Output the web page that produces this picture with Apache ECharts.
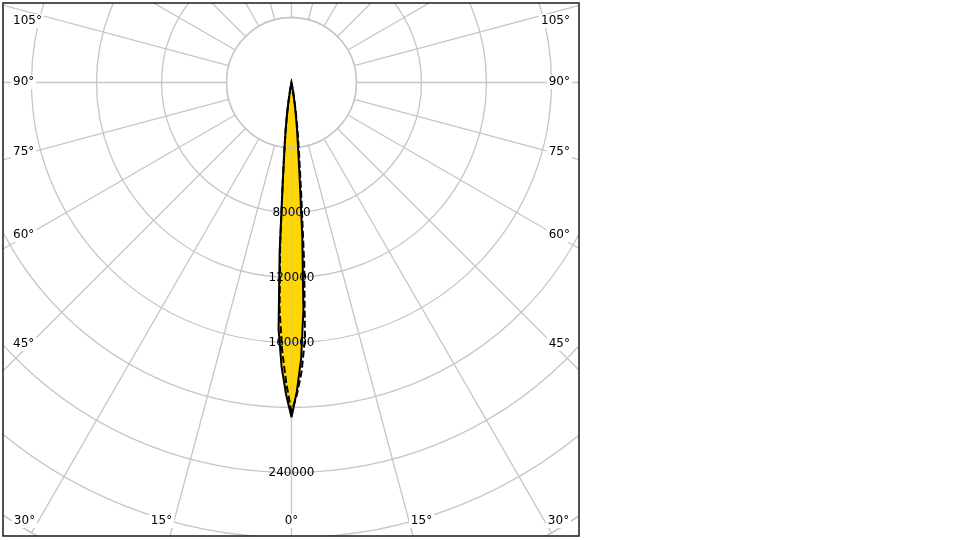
<!DOCTYPE html>
<html>
<head>
<meta charset="utf-8">
<script src="https://cdn.jsdelivr.net/npm/echarts@6/dist/echarts.min.js"></script>
<style>
html,body{margin:0;padding:0;background:#fff;}
#chart{width:960px;height:540px;}
</style>
</head>
<body>
<div id="chart"></div>
<script>
// ---- data ----
const gammaAngles = [0,1,2,3,4,5,6,7,8,9,10,12,15,20,30,45,60,75,90,105,120,135,150,165,180];
const planeC0   = [206000,192000,175000,152000,105000,62000,42000,30000,20000,12000,6000,2000,500,0,0,0,0,0,0,0,0,0,0,0,0];
const planeC180 = [206000,190000,170000,140000,95000,56000,37000,26000,17000,10000,5000,1500,0,0,0,0,0,0,0,0,0,0,0,0,0];
const planeC90  = [203000,185000,165000,140000,100000,62000,42000,30000,20000,12000,6000,2000,0,0,0,0,0,0,0,0,0,0,0,0,0];
const planeC270 = [203000,192000,178000,158000,112000,68000,45000,32000,21000,12500,6000,2000,0,0,0,0,0,0,0,0,0,0,0,0,0];
const ringValues = [40000,80000,120000,160000,200000,240000,280000,320000];
const shownRingLabels = [80000,120000,160000,240000];
const angleTickLabels = ['0°','15°','30°','45°','60°','75°','90°','105°'];
const angleTickValues = [0,15,30,45,60,75,90,105];

// ---- layout ----
const CX = 291.5, CY = 82.5, R = 520;
const BOX = {x1:3, y1:3, x2:579, y2:536};
const FONT = '12px "DejaVu Sans", Verdana, sans-serif';
const GRID = '#c6c6c6';
const GRID_W = 1.3;

// build closed polygon [radius, angle]: left half = gamma, right half = 360 - gamma
function halfPlanes(leftVals, rightVals){
  const pts = [];
  for (let i = 0; i < gammaAngles.length; i++) pts.push([leftVals[i], gammaAngles[i]]);
  for (let i = gammaAngles.length - 1; i >= 0; i--) pts.push([rightVals[i], 360 - gammaAngles[i]]);
  return pts;
}
const solidPts = halfPlanes(planeC0, planeC180);
const dashedPts = halfPlanes(planeC90, planeC270);

// angle label placement (text positions along box edges)
const sideY = {45:344, 60:235, 75:152, 90:82, 105:21};
const bottomDX = {0:0, 15:130, 30:267};
const labelEls = [];
angleTickValues.forEach((v, i) => {
  const t = angleTickLabels[i];
  const base = {type:'text', z:120, silent:true};
  const st = {text:t, font:FONT, fill:'#000', backgroundColor:'#fff', padding:[1,2], verticalAlign:'middle'};
  if (v in sideY) {
    labelEls.push(Object.assign({}, base, {style:Object.assign({}, st, {x:BOX.x1+8, y:sideY[v], align:'left'})}));
    labelEls.push(Object.assign({}, base, {style:Object.assign({}, st, {x:BOX.x2-7, y:sideY[v], align:'right'})}));
  } else {
    const dx = bottomDX[v];
    labelEls.push(Object.assign({}, base, {style:Object.assign({}, st, {x:CX - dx, y:521, align:'center'})}));
    if (dx > 0) labelEls.push(Object.assign({}, base, {style:Object.assign({}, st, {x:CX + dx, y:521, align:'center'})}));
  }
});

const chart = echarts.init(document.getElementById('chart'), null, {renderer:'canvas'});
const option = {
  animation: false,
  backgroundColor: '#fff',
  polar: [
    {center:[CX, CY], radius:[R * ringValues[0] / ringValues[ringValues.length-1], R]},
    {center:[CX, CY], radius:R}
  ],
  angleAxis: [
    {polarIndex:0, type:'value', min:0, max:360, interval:15, startAngle:270, clockwise:true, z:2,
     axisLine:{show:true, lineStyle:{color:GRID, width:GRID_W}}, axisTick:{show:false}, axisLabel:{show:false},
     splitLine:{show:true, lineStyle:{color:GRID, width:GRID_W}}},
    {polarIndex:1, type:'value', min:0, max:360, interval:15, startAngle:270, clockwise:true,
     axisLine:{show:false}, axisTick:{show:false}, axisLabel:{show:false}, splitLine:{show:false}}
  ],
  radiusAxis: [
    {polarIndex:0, type:'value', min:ringValues[0], max:ringValues[ringValues.length-1], interval:40000, z:2,
     axisLine:{show:false}, axisTick:{show:false}, axisLabel:{show:false},
     splitLine:{show:true, lineStyle:{color:GRID, width:GRID_W}}},
    {polarIndex:1, type:'value', min:0, max:ringValues[ringValues.length-1], interval:40000, z:6,
     axisLine:{show:false}, axisTick:{show:false}, splitLine:{show:false},
     axisLabel:{show:true, margin:0, align:'center', verticalAlign:'middle', color:'#000',
       fontFamily:'DejaVu Sans', fontSize:12, padding:[3,0,0,0],
       formatter: v => shownRingLabels.indexOf(v) >= 0 ? String(v) : ''}}
  ],
  series: [
    {type:'line', coordinateSystem:'polar', polarIndex:1, data:solidPts, z:1, clip:false,
     symbol:'none', smooth:false, lineStyle:{width:0, color:'#FFD600'},
     areaStyle:{color:'#FFD600', opacity:1}},
    {type:'line', coordinateSystem:'polar', polarIndex:1, data:solidPts, z:4, clip:false,
     symbol:'none', smooth:false, lineStyle:{width:2, color:'#000', join:'miter', miterLimit:20}},
    {type:'line', coordinateSystem:'polar', polarIndex:1, data:dashedPts, z:4, clip:false,
     symbol:'none', smooth:false, lineStyle:{width:2, color:'#000', type:[7,3], join:'miter'}}
  ],
  graphic: [
    {type:'group', z:100, children:[
      {type:'rect', z:100, silent:true, shape:{x:0, y:0, width:960, height:BOX.y1}, style:{fill:'#fff'}},
      {type:'rect', z:100, silent:true, shape:{x:0, y:0, width:BOX.x1, height:540}, style:{fill:'#fff'}},
      {type:'rect', z:100, silent:true, shape:{x:BOX.x2, y:0, width:960-BOX.x2, height:540}, style:{fill:'#fff'}},
      {type:'rect', z:100, silent:true, shape:{x:0, y:BOX.y2, width:960, height:540-BOX.y2}, style:{fill:'#fff'}}
    ]},
    {type:'group', z:120, children:labelEls},
    {type:'rect', z:130, silent:true, shape:{x:BOX.x1, y:BOX.y1, width:BOX.x2-BOX.x1, height:BOX.y2-BOX.y1},
     style:{fill:'none', stroke:'#1a1a1a', lineWidth:1.5}}
  ]
};
chart.setOption(option);
</script>
</body>
</html>
